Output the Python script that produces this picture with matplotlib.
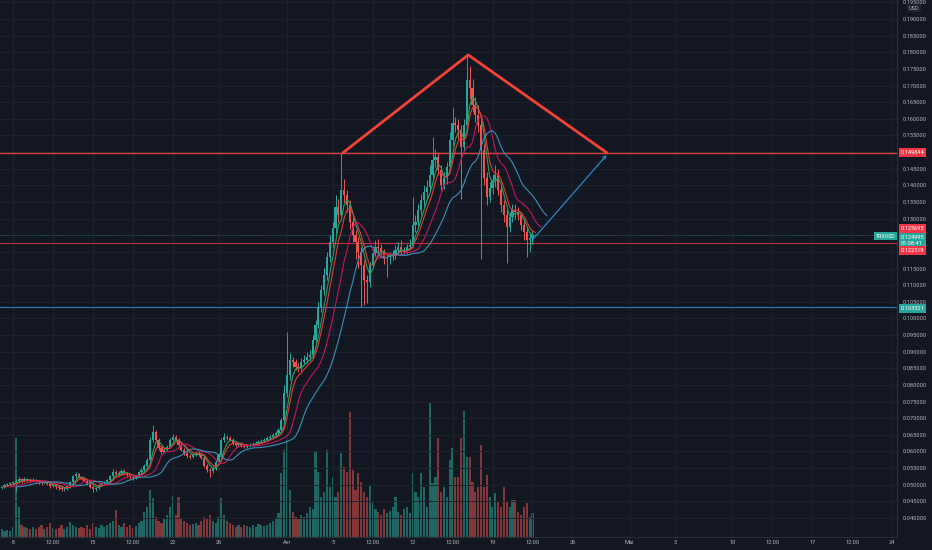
import matplotlib
matplotlib.use('Agg')
import matplotlib.pyplot as plt
import matplotlib.dates as mdates
import matplotlib.transforms as mtransforms
from matplotlib.ticker import FuncFormatter
import numpy as np
import pandas as pd

plt.rcParams['font.family'] = ['Roboto', 'DejaVu Sans']

# TRXUSD, velas de 6h desde 2021-03-07 00:00
start = '2021-03-07 00:00'
first_open = 0.0490

closes = [
    0.0493, 0.0499, 0.0502, 0.0505,  # Mar 7
    0.0508, 0.0511, 0.0517, 0.0514,
    0.0517, 0.0514, 0.0511, 0.0514,
    0.0511, 0.0508, 0.0505, 0.0508,
    0.0502, 0.0496, 0.0499, 0.0493,
    0.0490, 0.0486, 0.0488, 0.0495,  # Mar 12
    0.0508, 0.0526, 0.0532, 0.0523,
    0.0517, 0.0511, 0.0502, 0.0493,
    0.0487, 0.0490, 0.0499, 0.0505,
    0.0508, 0.0514, 0.0526, 0.0538,
    0.0532, 0.0535, 0.0541, 0.0535,  # Mar 17
    0.0529, 0.0523, 0.0520, 0.0526,
    0.0538, 0.0544, 0.0556, 0.0574,
    0.0635, 0.0658, 0.0635, 0.0611,
    0.0599, 0.0605, 0.0614, 0.0635,
    0.0644, 0.0635, 0.0620, 0.0605,  # Mar 22
    0.0596, 0.0587, 0.0584, 0.0590,
    0.0596, 0.0590, 0.0581, 0.0557,
    0.0544, 0.0541, 0.0550, 0.0568,
    0.0590, 0.0635, 0.0644, 0.0641,
    0.0635, 0.0626, 0.0620, 0.0623,  # Mar 27
    0.0617, 0.0614, 0.0617, 0.0620,
    0.0623, 0.0626, 0.0629, 0.0632,
    0.0635, 0.0641, 0.0644, 0.0650,
    0.0656, 0.0665, 0.0695, 0.0776,
    0.0830, 0.0875, 0.0869, 0.0854,  # Apr 1
    0.0851, 0.0869, 0.0875, 0.0884,
    0.0890, 0.0935, 0.0980, 0.1034,
    0.1086, 0.1131, 0.1185, 0.1230,
    0.1272, 0.1335, 0.1311, 0.1386,
    0.1371, 0.1341, 0.1290, 0.1251,  # Apr 6
    0.1230, 0.1200, 0.1161, 0.1115,
    0.1110, 0.1161, 0.1197, 0.1215,
    0.1212, 0.1200, 0.1182, 0.1185,
    0.1188, 0.1191, 0.1206, 0.1215,
    0.1200, 0.1206, 0.1215, 0.1221,  # Apr 11
    0.1281, 0.1290, 0.1326, 0.1356,
    0.1380, 0.1395, 0.1431, 0.1476,
    0.1485, 0.1446, 0.1401, 0.1422,
    0.1455, 0.1536, 0.1587, 0.1581,
    0.1566, 0.1515, 0.1581, 0.1717,  # Apr 16
    0.1693, 0.1642, 0.1612, 0.1581,
    0.1506, 0.1422, 0.1365, 0.1392,
    0.1416, 0.1431, 0.1386, 0.1341,
    0.1311, 0.1275, 0.1305, 0.1326,
    0.1320, 0.1311, 0.1281, 0.1260,  # Apr 21
    0.1236, 0.1242, 0.1250,
]

highs = [
    0.0497, 0.0503, 0.0506, 0.0509,
    0.0512, 0.0516, 0.0524, 0.0521,
    0.0522, 0.0521, 0.0518, 0.0519,
    0.0518, 0.0515, 0.0512, 0.0512,
    0.0512, 0.0506, 0.0503, 0.0503,
    0.0497, 0.0494, 0.0492, 0.0499,
    0.0512, 0.0530, 0.0538, 0.0536,
    0.0527, 0.0522, 0.0515, 0.0506,
    0.0497, 0.0494, 0.0503, 0.0509,
    0.0512, 0.0518, 0.0530, 0.0547,
    0.0543, 0.0540, 0.0548, 0.0546,
    0.0539, 0.0533, 0.0527, 0.0530,
    0.0542, 0.0549, 0.0561, 0.0580,
    0.0642, 0.0680, 0.0665, 0.0641,
    0.0616, 0.0610, 0.0620, 0.0640,
    0.0652, 0.0650, 0.0640, 0.0625,
    0.0610, 0.0601, 0.0593, 0.0596,
    0.0601, 0.0601, 0.0595, 0.0585,
    0.0562, 0.0550, 0.0555, 0.0573,
    0.0595, 0.0640, 0.0656, 0.0650,
    0.0646, 0.0640, 0.0631, 0.0628,
    0.0627, 0.0622, 0.0621, 0.0624,
    0.0627, 0.0631, 0.0634, 0.0637,
    0.0640, 0.0646, 0.0649, 0.0656,
    0.0662, 0.0672, 0.0702, 0.0800,
    0.0960, 0.0895, 0.0885, 0.0878,
    0.0866, 0.0880, 0.0890, 0.0900,
    0.0905, 0.0950, 0.0995, 0.1050,
    0.1100, 0.1150, 0.1200, 0.1250,
    0.1290, 0.1370, 0.1360, 0.1498,
    0.1420, 0.1385, 0.1355, 0.1305,
    0.1265, 0.1245, 0.1215, 0.1175,
    0.1130, 0.1170, 0.1210, 0.1235,
    0.1240, 0.1225, 0.1210, 0.1195,
    0.1200, 0.1205, 0.1220, 0.1230,
    0.1235, 0.1215, 0.1225, 0.1240,
    0.1365, 0.1310, 0.1345, 0.1375,
    0.1400, 0.1415, 0.1460, 0.1545,
    0.1510, 0.1500, 0.1460, 0.1440,
    0.1470, 0.1560, 0.1635, 0.1605,
    0.1600, 0.1580, 0.1600, 0.1792,
    0.1760, 0.1720, 0.1665, 0.1640,
    0.1600, 0.1525, 0.1440, 0.1410,
    0.1435, 0.1460, 0.1450, 0.1400,
    0.1355, 0.1325, 0.1320, 0.1345,
    0.1345, 0.1335, 0.1320, 0.1295,
    0.1275, 0.1260, 0.1265,
]

lows = [
    0.0486, 0.0490, 0.0496, 0.0499,
    0.0500, 0.0480, 0.0507, 0.0506,
    0.0509, 0.0509, 0.0506, 0.0507,
    0.0506, 0.0503, 0.0500, 0.0501,
    0.0498, 0.0491, 0.0492, 0.0488,
    0.0485, 0.0480, 0.0481, 0.0484,
    0.0491, 0.0504, 0.0521, 0.0519,
    0.0513, 0.0507, 0.0498, 0.0489,
    0.0477, 0.0482, 0.0486, 0.0495,
    0.0500, 0.0504, 0.0510, 0.0522,
    0.0527, 0.0527, 0.0531, 0.0530,
    0.0524, 0.0518, 0.0515, 0.0516,
    0.0522, 0.0533, 0.0540, 0.0552,
    0.0570, 0.0628, 0.0628, 0.0604,
    0.0592, 0.0594, 0.0600, 0.0610,
    0.0630, 0.0630, 0.0615, 0.0600,
    0.0590, 0.0580, 0.0578, 0.0579,
    0.0585, 0.0585, 0.0576, 0.0552,
    0.0538, 0.0522, 0.0535, 0.0545,
    0.0563, 0.0585, 0.0628, 0.0634,
    0.0630, 0.0620, 0.0614, 0.0615,
    0.0612, 0.0609, 0.0609, 0.0612,
    0.0615, 0.0618, 0.0621, 0.0624,
    0.0627, 0.0630, 0.0636, 0.0639,
    0.0644, 0.0650, 0.0660, 0.0690,
    0.0765, 0.0815, 0.0855, 0.0845,
    0.0838, 0.0842, 0.0860, 0.0866,
    0.0872, 0.0882, 0.0925, 0.0970,
    0.1020, 0.1070, 0.1115, 0.1170,
    0.1215, 0.1255, 0.1290, 0.1300,
    0.1350, 0.1320, 0.1270, 0.1230,
    0.1180, 0.1150, 0.1035, 0.1040,
    0.1045, 0.1095, 0.1150, 0.1185,
    0.1200, 0.1190, 0.1165, 0.1125,
    0.1165, 0.1175, 0.1180, 0.1195,
    0.1190, 0.1190, 0.1195, 0.1205,
    0.1215, 0.1260, 0.1275, 0.1310,
    0.1335, 0.1360, 0.1380, 0.1415,
    0.1455, 0.1430, 0.1385, 0.1390,
    0.1405, 0.1440, 0.1520, 0.1560,
    0.1540, 0.1360, 0.1500, 0.1560,
    0.1660, 0.1620, 0.1590, 0.1560,
    0.1180, 0.1400, 0.1340, 0.1350,
    0.1375, 0.1395, 0.1370, 0.1320,
    0.1290, 0.1168, 0.1260, 0.1290,
    0.1300, 0.1295, 0.1265, 0.1235,
    0.1185, 0.1200, 0.1225,
]

# volumen (millones, aprox.)
volumes = [
    8, 6, 7, 6,
    10, 99, 30, 12,
    10, 9, 8, 10,
    8, 10, 12, 8,
    10, 14, 9, 8,
    9, 12, 8, 10,
    15, 12, 10, 9,
    10, 9, 12, 8,
    14, 10, 9, 12,
    10, 12, 14, 16,
    27, 12, 10, 14,
    10, 12, 9, 11,
    14, 16, 25, 30,
    47, 39, 20, 16,
    14, 18, 22, 30,
    41, 22, 40, 18,
    16, 14, 12, 13,
    14, 12, 16, 20,
    18, 22, 16, 14,
    20, 39, 22, 16,
    14, 12, 10, 12,
    10, 12, 11, 10,
    12, 10, 13, 12,
    11, 12, 14, 16,
    18, 24, 64, 87,
    97, 47, 25, 20,
    18, 22, 20, 24,
    30, 28, 85, 65,
    40, 45, 87, 50,
    60, 40, 45, 84,
    70, 65, 125, 67,
    47, 64, 55, 45,
    40, 52, 35, 28,
    25, 22, 28, 24,
    26, 30, 40, 25,
    22, 28, 30, 24,
    64, 45, 40, 64,
    50, 30, 134, 54,
    60, 99, 45, 50,
    40, 77, 89, 60,
    60, 99, 126, 80,
    80, 55, 45, 50,
    92, 50, 62, 40,
    30, 44, 35, 30,
    50, 35, 30, 37,
    37, 25, 22, 30,
    34, 20, 24,
]

# medias moviles: (periodo, desplazamiento, color)
mas = [(3, 1, '#2e9e5e'), (5, 1, '#e53935'), (8, 3, '#c2185b'), (14, 5, '#3d8fb8')]

# niveles horizontales
level_top = 0.149844
level_low = 0.122519
level_support = 0.103321
last_price = 0.124995
ask_price = 0.125695
countdown = '01:08:41'

# triangulo dibujado
tri_times = ['2021-04-05 22:00', '2021-04-16 21:00', '2021-04-29 00:00']
tri_prices = [0.149844, 0.1792, 0.149844]
arrow_start = ('2021-04-22 12:00', 0.1236)
arrow_end = ('2021-04-29 00:00', 0.1491)

tick_times = ['2021-03-08 00:00', '2021-03-11 12:00', '2021-03-15 00:00', '2021-03-18 12:00',
              '2021-03-22 00:00', '2021-03-26 00:00', '2021-04-01 00:00', '2021-04-05 00:00',
              '2021-04-08 12:00', '2021-04-12 00:00', '2021-04-15 12:00', '2021-04-19 00:00',
              '2021-04-22 12:00', '2021-04-26 00:00', '2021-05-01 00:00', '2021-05-05 00:00',
              '2021-05-10 00:00', '2021-05-13 12:00', '2021-05-17 00:00', '2021-05-20 12:00',
              '2021-05-24 00:00']
tick_labels = ['8', '12:00', '15', '12:00', '22', '26', 'Avr', '5', '12:00', '12',
               '12:00', '19', '12:00', '26', 'Mai', '5', '10', '12:00', '17',
               '12:00', '24']
# etiquetas de precio tapadas por las etiquetas de nivel
hidden_ticks = [0.150, 0.125, 0.120]

assert len(closes) == len(highs) == len(lows) == len(volumes)

bg = '#131722'
up_col = '#26a69a'
down_col = '#ef5350'
txt_col = '#b2b5be'


def dnum(s):
    return mdates.date2num(pd.to_datetime(s, format='mixed'))


times = pd.date_range(start, periods=len(closes), freq='6h')
x = mdates.date2num(times)
c = np.array(closes)
o = np.r_[first_open, c[:-1]]
hi = np.array(highs)
lo = np.array(lows)
up = c >= o
cols = np.where(up, up_col, down_col)

fig = plt.figure(figsize=(9.32, 5.5), dpi=100, facecolor=bg)
ax = fig.add_axes([0, 13 / 550, 897 / 932, 537 / 550])
ax2 = ax.twinx()
ax.set_zorder(ax2.get_zorder() + 1)
ax.patch.set_visible(False)
ax2.patch.set_facecolor(bg)

# volumen
ax2.bar(x, volumes, width=0.19, color=np.where(up, '#1d6662', '#823739'), lw=0)
ax2.set_ylim(0, max(volumes) * 4.0)
ax2.set_yticks([])
for s in ax2.spines.values():
    s.set_visible(False)

# velas
ax.vlines(x, lo, hi, colors=cols, lw=0.7, zorder=3)
ax.bar(x, np.maximum(np.abs(c - o), 0.00025), width=0.19, bottom=np.minimum(o, c),
       color=cols, lw=0, zorder=4)

# medias
for span, off, col in mas:
    ema = pd.Series(c).ewm(span=span, adjust=False).mean().values
    ax.plot(x + off * 0.25, ema, color=col, lw=0.8, zorder=5)

# lineas horizontales
ax.axhline(level_top, color='#d8403f', lw=1.0, zorder=2)
ax.axhline(level_low, color='#b5383f', lw=0.8, zorder=2)
ax.axhline(last_price, color=up_col, lw=0.6, ls=(0, (1, 1.5)), alpha=0.6, zorder=2)
ax.axhline(level_support, color='#3179b5', lw=0.8, zorder=2)

# triangulo y flecha
tx = dnum(tri_times)
ax.plot(tx, tri_prices, color='#f44336', lw=2.0, zorder=6, solid_capstyle='round')
ax.annotate('', xy=(dnum(arrow_end[0]), arrow_end[1]),
            xytext=(dnum(arrow_start[0]), arrow_start[1]),
            arrowprops=dict(arrowstyle='->', color='#2b87c9', lw=0.9,
                            shrinkA=0, shrinkB=0, mutation_scale=5), zorder=6)

x0 = dnum('2021-03-08 00:00')
ax.set_xlim(x0 - 1.139, x0 + 77.43)
ax.set_ylim(0.03429, 0.19571)


def price_fmt(v, pos):
    if any(abs(v - h) < 1e-6 for h in hidden_ticks):
        return ''
    return '%.6f' % v


ax.set_yticks(np.arange(0.040, 0.1951, 0.005))
ax.yaxis.set_major_formatter(FuncFormatter(price_fmt))
ax.yaxis.tick_right()
ax.set_xticks(dnum(tick_times))
ax.set_xticklabels(tick_labels)
ax.tick_params(axis='y', length=0, labelsize=4.1, labelcolor=txt_col, pad=4.3)
ax.tick_params(axis='x', length=0, labelsize=4.1, labelcolor=txt_col, pad=2.2)
ax.grid(True, color='#1e222d', lw=0.7, zorder=0)
for side in ['top', 'left']:
    ax.spines[side].set_visible(False)
ax.spines['right'].set_color('#2a2e39')
ax.spines['bottom'].set_color('#2a2e39')


def tag(price, text, color, dy=0, fc_text='white'):
    tr = mtransforms.offset_copy(ax.get_yaxis_transform(), fig=fig, x=0, y=dy, units='dots')
    ax.text(1.004, price, text, transform=tr, ha='left', va='center', fontsize=4.1,
            color=fc_text, clip_on=False, zorder=10,
            bbox=dict(boxstyle='square,pad=0.35', fc=color, ec='none'))


tag(level_top, '%.6f' % level_top, '#f23645')
tag(ask_price, '%.6f' % ask_price, '#f23645', dy=4)
tag(last_price, '%.6f\n%s' % (last_price, countdown), up_col, dy=-5)
tag(level_low, '%.6f' % level_low, '#f23645', dy=-7)
tag(level_support, '%.6f' % level_support, up_col, dy=-1.5)

tr = mtransforms.offset_copy(ax.get_yaxis_transform(), fig=fig, x=0, y=-1, units='dots')
ax.text(0.998, last_price, 'TRXUSD', transform=tr, ha='right', va='center', fontsize=3.8,
        color='white', zorder=10, bbox=dict(boxstyle='square,pad=0.3', fc=up_col, ec='none'))

fig.text(914 / 932, 1 - 8 / 550, 'USD', ha='center', va='center', fontsize=4.1, color=txt_col,
         bbox=dict(boxstyle='square,pad=0.25', fc='#1e222d', ec='none'))

plt.savefig('out.png', dpi=100, facecolor=bg)
